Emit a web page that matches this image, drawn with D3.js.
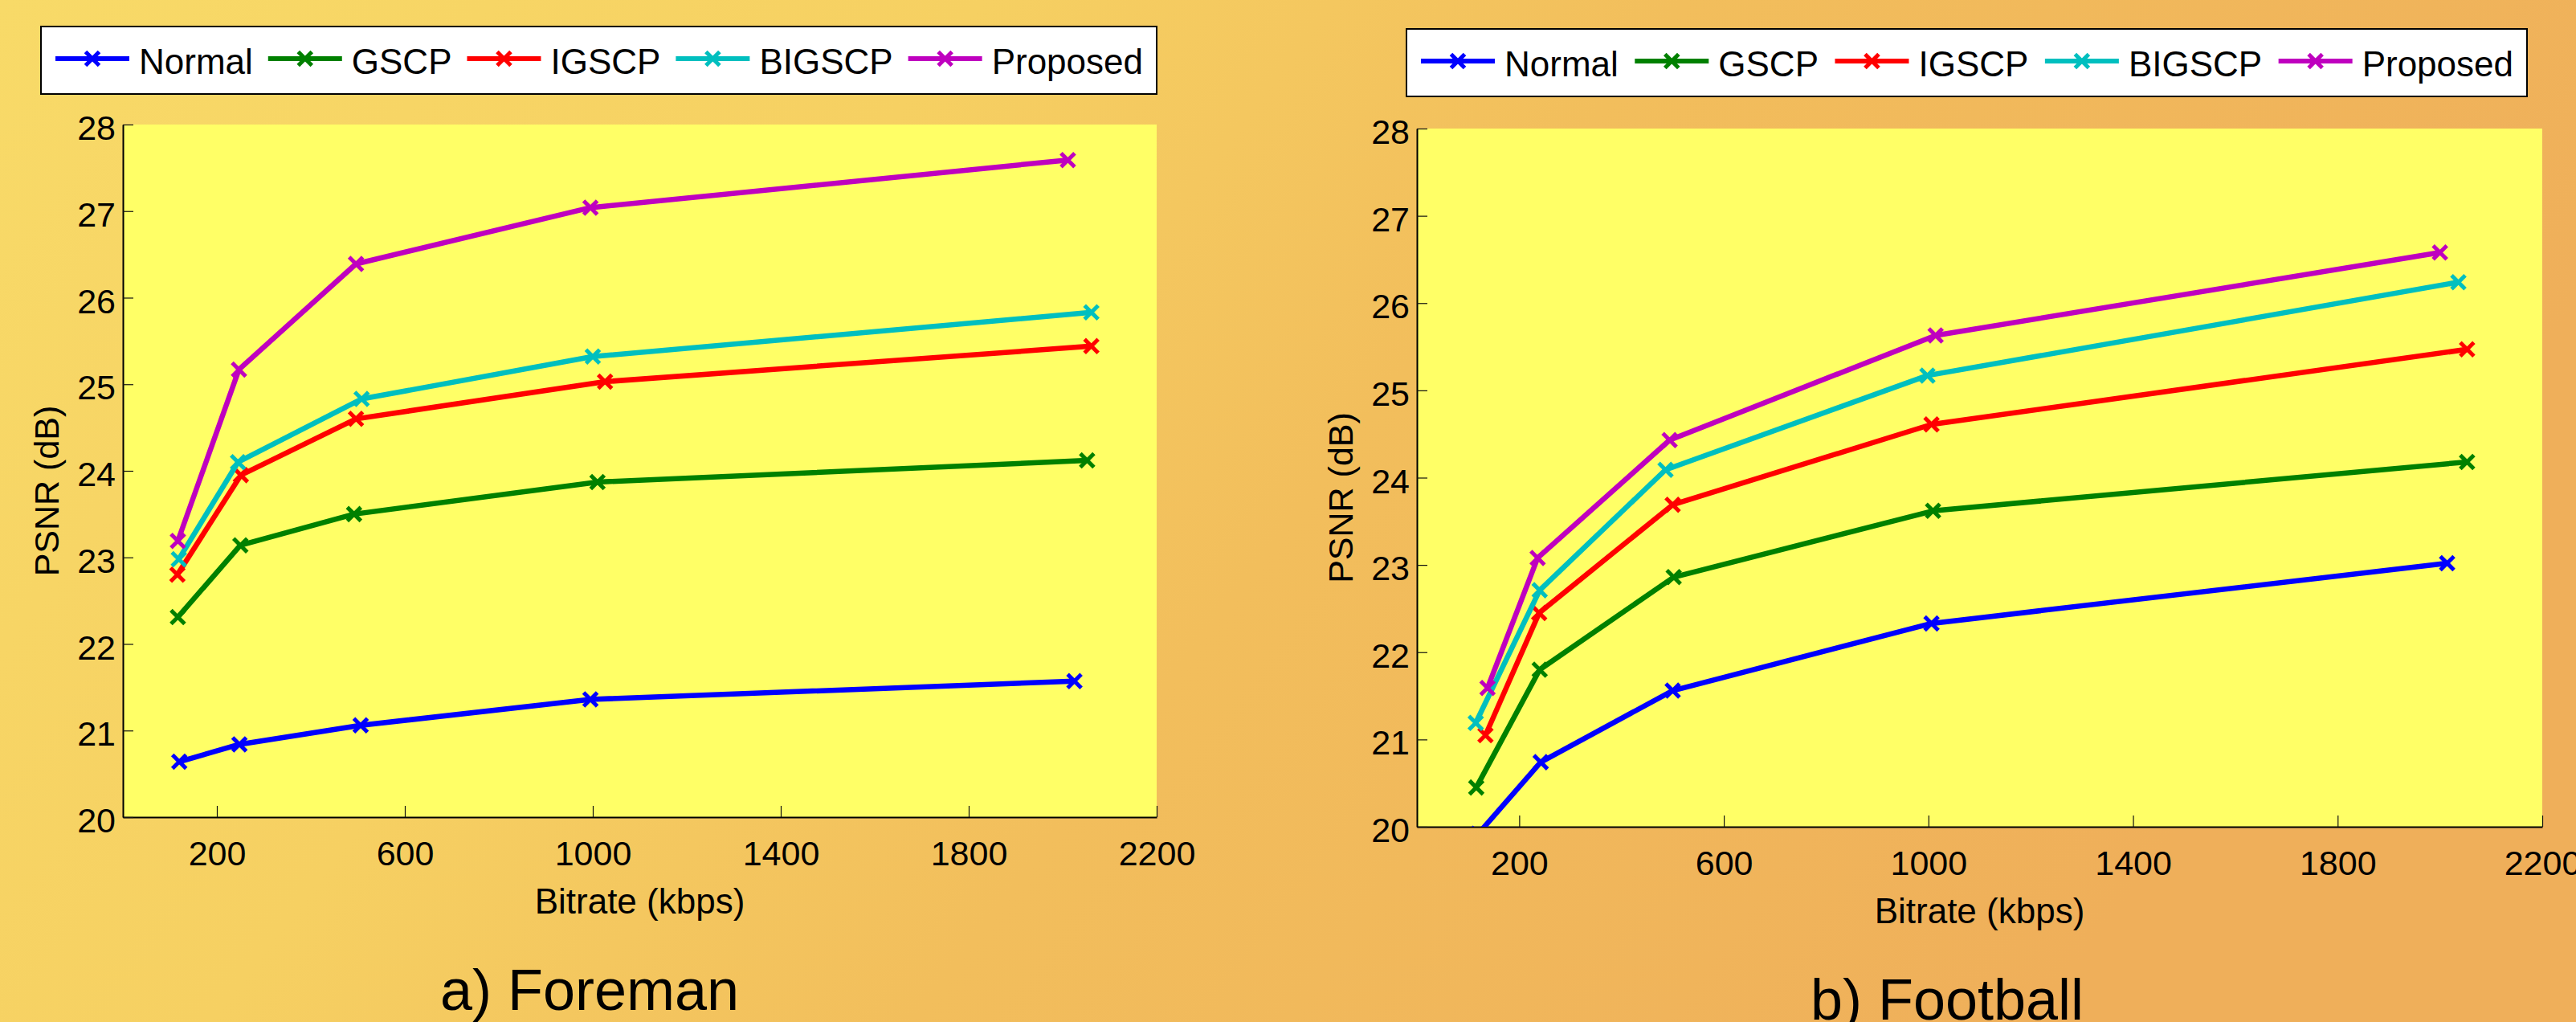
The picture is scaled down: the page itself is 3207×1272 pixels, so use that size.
<!DOCTYPE html>
<html>
<head>
<meta charset="utf-8">
<script src="https://cdn.jsdelivr.net/npm/d3@7"></script>
<style>
  body { margin: 0; padding: 0; overflow: hidden; }
  svg text { font-family: "Liberation Sans", Arial, sans-serif; fill: #000; }
</style>
</head>
<body>
<svg id="chart" width="3207" height="1272"></svg>
<script>

	// PSNR vs bitrate, two sequences (Foreman / Football)

	var seriesNames = ["Normal", "GSCP", "IGSCP", "BIGSCP", "Proposed"];
	var seriesColors = ["#0000FF", "#008000", "#FF0000", "#00BFBF", "#BF00BF"];

	var xTicks = [200, 600, 1000, 1400, 1800, 2200];
	var yTicks = [20, 21, 22, 23, 24, 25, 26, 27, 28];

	// one row per series, same order as seriesNames
	var foremanBitrate = [
		[120, 248, 506, 995, 2025],
		[117, 250, 492, 1010, 2052],
		[116, 251, 496, 1026, 2061],
		[119, 245, 508, 1000, 2061],
		[117, 247, 496, 995, 2011]
	];
	var foremanPsnr = [
		[20.64, 20.84, 21.06, 21.36, 21.57],
		[22.31, 23.14, 23.50, 23.87, 24.12],
		[22.80, 23.95, 24.60, 25.03, 25.44],
		[22.98, 24.10, 24.83, 25.32, 25.83],
		[23.19, 25.17, 26.39, 27.04, 27.59]
	];

	var footballBitrate = [
		[120, 242, 500, 1006, 2014],
		[116, 240, 502, 1009, 2053],
		[134, 239, 500, 1006, 2053],
		[115, 240, 486, 998, 2036],
		[138, 236, 494, 1014, 2000]
	];
	var footballPsnr = [
		[19.92, 20.74, 21.56, 22.33, 23.02],
		[20.45, 21.80, 22.86, 23.62, 24.18],
		[21.05, 22.45, 23.69, 24.61, 25.47],
		[21.19, 22.71, 24.09, 25.17, 26.24],
		[21.59, 23.08, 24.43, 25.63, 26.58]
	];

	var svg = d3.select("#chart");

	// slide background
	var defs = svg.append("defs");
	var grad = defs.append("linearGradient").attr("id", "bg")
		.attr("x1", "0").attr("y1", "0").attr("x2", "1").attr("y2", "0.3");
	grad.append("stop").attr("offset", "0%").attr("stop-color", "#F8DA68");
	grad.append("stop").attr("offset", "35%").attr("stop-color", "#F6D062");
	grad.append("stop").attr("offset", "60%").attr("stop-color", "#F2BE5C");
	grad.append("stop").attr("offset", "100%").attr("stop-color", "#EFAF5A");
	svg.append("rect").attr("width", 3207).attr("height", 1272).attr("fill", "url(#bg)");

	function toSeries(bitrate, psnr){
		return seriesNames.map(function(name, i){
			return {
				name: name,
				color: seriesColors[i],
				values: bitrate[i].map(function(b, j){ return { x: b, y: psnr[i][j] }; })
			};
		});
	}

	function xMarker(g, cx, cy, color){
		var h = 8.5;
		g.append("path")
		 .attr("d", "M" + (cx - h) + "," + (cy - h) + "L" + (cx + h) + "," + (cy + h) +
					"M" + (cx - h) + "," + (cy + h) + "L" + (cx + h) + "," + (cy - h))
		 .attr("stroke", color)
		 .attr("stroke-width", 5)
		 .attr("fill", "none");
	}

	function plotPanel(id, cfg, data){

		var x = d3.scaleLinear().domain([0, 2200]).range([cfg.left, cfg.right]);
		var y = d3.scaleLinear().domain([20, 28]).range([cfg.bottom, cfg.top]);

		var g = svg.append("g").attr("class", "panel");

		g.append("rect")
		 .attr("x", cfg.left).attr("y", cfg.top)
		 .attr("width", cfg.right - cfg.left).attr("height", cfg.bottom - cfg.top)
		 .attr("fill", "#FFFF66");

		defs.append("clipPath").attr("id", "clip-" + id)
			.append("rect")
			.attr("x", cfg.left).attr("y", cfg.top)
			.attr("width", cfg.right - cfg.left).attr("height", cfg.bottom - cfg.top);

		// axes
		var xAxis = g.append("g")
			.attr("transform", "translate(0," + cfg.bottom + ")")
			.call(d3.axisBottom(x).tickValues(xTicks).tickFormat(d3.format("d"))
				.tickSizeInner(-14).tickSizeOuter(0).tickPadding(29));
		var yAxis = g.append("g")
			.attr("transform", "translate(" + cfg.left + ",0)")
			.call(d3.axisLeft(y).tickValues(yTicks).tickFormat(d3.format("d"))
				.tickSizeInner(-13).tickSizeOuter(0).tickPadding(9));

		[xAxis, yAxis].forEach(function(a){
			a.select(".domain").attr("stroke", "#000").attr("stroke-width", 2);
			a.selectAll(".tick line").attr("stroke", "#111").attr("stroke-width", 1.2);
			a.selectAll(".tick text")
			 .attr("font-size", 43)
			 .attr("font-family", "Liberation Sans, Arial, sans-serif")
			 .attr("fill", "#000");
		});
		yAxis.selectAll(".tick text").attr("dy", "0.43em");

		// lines
		var line = d3.line()
			.x(function(d){ return x(d.x); })
			.y(function(d){ return y(d.y); });

		var plot = g.append("g").attr("clip-path", "url(#clip-" + id + ")");

		var s = plot.selectAll(".series")
			.data(data)
			.enter().append("g")
			.attr("class", "series");

		s.append("path")
		 .attr("d", function(d){ return line(d.values); })
		 .attr("fill", "none")
		 .attr("stroke", function(d){ return d.color; })
		 .attr("stroke-width", 6.5)
		 .attr("stroke-linejoin", "round");

		s.each(function(d){
			var sg = d3.select(this);
			d.values.forEach(function(p){ xMarker(sg, x(p.x), y(p.y), d.color); });
		});

		// axis labels
		g.append("text")
		 .attr("x", (cfg.left + cfg.right) / 2)
		 .attr("y", cfg.bottom + 120)
		 .attr("text-anchor", "middle")
		 .attr("font-size", 44)
		 .text("Bitrate (kbps)");

		g.append("text")
		 .attr("transform", "translate(" + (cfg.left - 80) + "," + ((cfg.top + cfg.bottom) / 2 + 25) + ") rotate(-90)")
		 .attr("text-anchor", "middle")
		 .attr("font-size", 43)
		 .text("PSNR (dB)");

		// caption
		g.append("text")
		 .attr("x", cfg.captionX)
		 .attr("y", cfg.captionY)
		 .attr("text-anchor", "middle")
		 .attr("font-size", 72)
		 .text(cfg.caption);

		// legend
		var lg = g.append("g");
		lg.append("rect")
		  .attr("x", cfg.legX).attr("y", cfg.legY)
		  .attr("width", cfg.legW).attr("height", 84)
		  .attr("fill", "#fff").attr("stroke", "#000").attr("stroke-width", 2);

		var items = data.map(function(d){
			var it = lg.append("g");
			it.append("line")
			  .attr("x1", 0).attr("x2", 92).attr("y1", 0).attr("y2", 0)
			  .attr("stroke", d.color).attr("stroke-width", 6);
			xMarker(it, 46, 0, d.color);
			var t = it.append("text")
			  .attr("x", 104).attr("y", 19)
			  .attr("font-size", 44)
			  .text(d.name);
			return { g: it, w: 104 + t.node().getComputedTextLength() };
		});

		var total = d3.sum(items, function(d){ return d.w; });
		var gap = (cfg.legW - 35 - total) / (items.length - 1);
		var cx = cfg.legX + 18;
		items.forEach(function(it){
			it.g.attr("transform", "translate(" + cx + "," + (cfg.legY + 40) + ")");
			cx += it.w + gap;
		});
	}

	plotPanel("foreman", {
		left: 153, right: 1440, top: 155, bottom: 1017,
		legX: 51, legY: 33, legW: 1389,
		caption: "a) Foreman", captionX: 734, captionY: 1257
	}, toSeries(foremanBitrate, foremanPsnr));

	plotPanel("football", {
		left: 1764, right: 3165, top: 160, bottom: 1029,
		legX: 1751, legY: 36, legW: 1395,
		caption: "b) Football", captionX: 2424, captionY: 1269
	}, toSeries(footballBitrate, footballPsnr));

</script>
</body>
</html>
